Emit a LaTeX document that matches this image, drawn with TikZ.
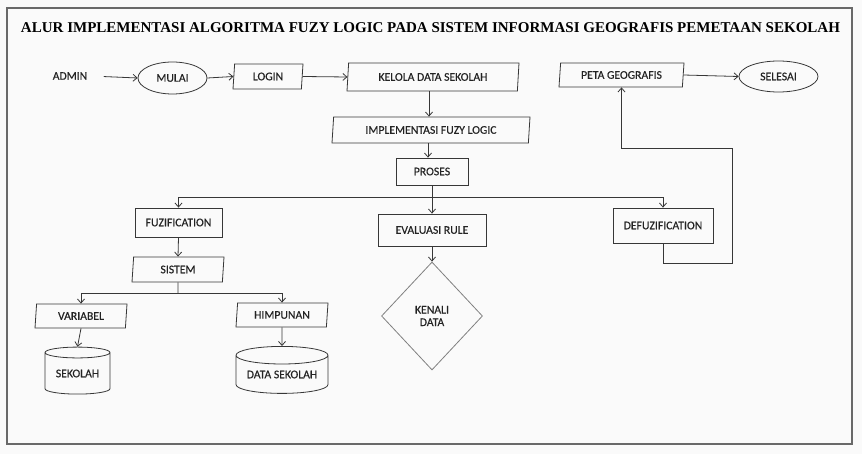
\documentclass[tikz,border=0pt]{standalone}
\usepackage{fontspec}
\setmainfont{Carlito}
\newfontfamily\lblfont{Carlito}[FakeBold=0.35]
\newfontfamily\titlefont{Liberation Serif}
\usetikzlibrary{shapes.geometric,arrows.meta}
\definecolor{bg}{RGB}{250,250,250}
\definecolor{ink}{RGB}{35,35,35}
\definecolor{edge}{RGB}{55,55,55}
\definecolor{framec}{RGB}{105,105,105}
\begin{document}
\begin{tikzpicture}[x=1pt,y=-1pt,
  every node/.style={font=\lblfont\fontsize{11.7}{12.5}\selectfont, text=ink},
  box/.style={draw=edge, line width=0.8pt, rectangle, inner sep=0pt},
  para/.style={draw=edge, line width=0.8pt, trapezium, trapezium left angle=78, trapezium right angle=102, trapezium stretches body, inner sep=0pt},
  term/.style={draw=edge, line width=0.8pt, ellipse, inner sep=0pt},
  db/.style={draw=edge, line width=0.8pt, cylinder, shape border rotate=90, aspect=0.25, inner sep=0pt},
  dec/.style={draw=gray, line width=0.8pt, diamond, inner sep=0pt, align=center},
  arr/.style={draw=edge, line width=0.8pt, -{Straight Barb[length=4pt,width=7pt]}},
  ln/.style={draw=edge, line width=0.8pt}
]
\fill[bg] (0,0) rectangle (862,454);
\useasboundingbox (0,0) rectangle (862,454);
\draw[framec, line width=1.4pt] (7,8) rectangle (852,444);

\node[text=black] (title) at (430.5,28) {\resizebox{819pt}{\height}{\titlefont\bfseries\fontsize{15}{15}\selectfont ALUR IMPLEMENTASI ALGORITMA FUZY LOGIC PADA SISTEM INFORMASI GEOGRAFIS PEMETAAN SEKOLAH}};

\node (admin) at (70,76) {ADMIN};
\node[term, minimum width=69pt, minimum height=32pt] (mulai) at (172.5,78) {MULAI};
\node[para, minimum width=70pt, minimum height=25pt] (login) at (268,76.5) {LOGIN};
\node[para, minimum width=172pt, minimum height=28pt] (kelola) at (433,77) {KELOLA DATA SEKOLAH};
\node[para, minimum width=198pt, minimum height=26pt] (impl) at (431,130) {IMPLEMENTASI FUZY LOGIC};
\node[box, minimum width=72pt, minimum height=27pt] (proses) at (432,171.5) {PROSES};
\node[para, minimum width=125pt, minimum height=24pt] (peta) at (621.5,75) {PETA GEOGRAFIS};
\node[term, minimum width=79pt, minimum height=31pt] (selesai) at (778.5,76.5) {SELESAI};

\node[box, minimum width=87pt, minimum height=29pt] (fuz) at (178.5,222.5) {FUZIFICATION};
\node[box, minimum width=108pt, minimum height=32pt] (eval) at (432,230) {EVALUASI RULE};
\node[box, minimum width=100pt, minimum height=35pt] (defuz) at (663,225.5) {DEFUZIFICATION};
\node[dec, minimum width=101pt, minimum height=108pt] (kenali) at (432,316) {KENALI\\DATA};

\node[para, minimum width=92pt, minimum height=25pt] (sistem) at (178,269.5) {SISTEM};
\node[para, minimum width=92pt, minimum height=24pt] (variabel) at (81,316) {VARIABEL};
\node[para, minimum width=92pt, minimum height=24pt] (himpunan) at (282,315) {HIMPUNAN};
\node[db, minimum width=65pt, minimum height=47pt] (sekolah) at (77.5,373.5) {SEKOLAH};
\node[db, minimum width=92pt, minimum height=47pt] (datasek) at (282,374.5) {DATA SEKOLAH};

\coordinate (split) at (432,197);
\coordinate (split2) at (178,293);
\coordinate (r1) at (732,263);
\coordinate (r2) at (732,148);

\draw[arr, shorten <=13pt] (admin.east) -- (mulai.west);
\draw[arr] (mulai.east) -- (login.west);
\draw[arr] (login.east) -- (kelola.west);
\draw[arr] ([xshift=-4pt]kelola.south) -- ([xshift=-4pt]kelola.south |- impl.north);
\draw[arr] ([xshift=-3pt]impl.south) -- ([xshift=-3pt]impl.south |- proses.north);
\draw[ln] (proses.south) -- (split);
\draw[arr] (split) -| (fuz.north);
\draw[arr] (split) -- (eval.north);
\draw[arr] (split) -| (defuz.north);
\draw[arr] (eval.south) -- (kenali.north);
\draw[arr] (defuz.south) |- (r1) -- (r2) -| (peta.south);
\draw[arr] (peta.east) -- (selesai.west);
\draw[arr] (fuz.south) -- (sistem.north);
\draw[ln] (sistem.south) -- (split2);
\draw[arr] (split2) -| (variabel.north);
\draw[arr] (split2) -| (himpunan.north);
\draw[arr] (variabel.south) -- (sekolah.north);
\draw[arr] (himpunan.south) -- (datasek.north);
\end{tikzpicture}
\end{document}
